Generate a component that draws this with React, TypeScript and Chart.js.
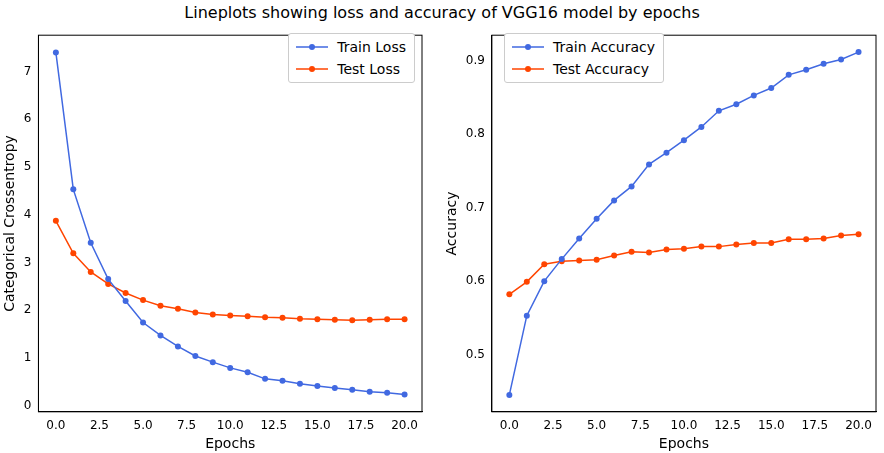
import { useRef, useEffect } from "react";
import { Chart, registerables } from "chart.js";

Chart.register(...registerables);

const epochs = Array.from({ length: 21 }, (_, i) => i);
const trainLoss = [7.4, 4.53, 3.41, 2.65, 2.19, 1.74, 1.47, 1.24, 1.04, 0.91, 0.79, 0.7, 0.56, 0.52, 0.46, 0.41, 0.37, 0.33, 0.29, 0.27, 0.23];
const testLoss = [3.87, 3.19, 2.8, 2.55, 2.36, 2.21, 2.09, 2.03, 1.95, 1.91, 1.89, 1.87, 1.85, 1.84, 1.82, 1.81, 1.8, 1.79, 1.8, 1.81, 1.81];
const trainAcc = [0.445, 0.553, 0.6, 0.63, 0.658, 0.685, 0.71, 0.729, 0.759, 0.775, 0.792, 0.81, 0.832, 0.841, 0.853, 0.863, 0.881, 0.888, 0.896, 0.902, 0.912];
const testAcc = [0.582, 0.599, 0.623, 0.627, 0.628, 0.629, 0.635, 0.64, 0.639, 0.643, 0.644, 0.647, 0.647, 0.65, 0.652, 0.652, 0.657, 0.657, 0.658, 0.662, 0.664];
const xTicks = [0, 2.5, 5, 7.5, 10, 12.5, 15, 17.5, 20];

const BLUE = "#4169e1";
const RED = "#ff4500";
const FONT = "DejaVu Sans";

interface PanelProps {
  a: number[];
  b: number[];
  la: string;
  lb: string;
  ylabel: string;
  ymin: number;
  ymax: number;
  yticks: number[];
  ydec: number;
  legendLeft: boolean;
  padRight: number;
}

const Panel = ({ a, b, la, lb, ylabel, ymin, ymax, yticks, ydec, legendLeft, padRight }: PanelProps) => {
  const ref = useRef<HTMLCanvasElement | null>(null);
  useEffect(() => {
    const ctx = ref.current?.getContext("2d");
    if (!ctx) return;
    const ds = (label: string, data: number[], c: string) => ({
      label,
      data: data.map((y, i) => ({ x: epochs[i], y })),
      borderColor: c,
      backgroundColor: c,
      borderWidth: 1.5,
      pointRadius: 3,
      pointBorderWidth: 0,
    });
    const chart = new Chart(ctx, {
      type: "line",
      data: { datasets: [ds(la, a, BLUE), ds(lb, b, RED)] },
      options: {
        animation: false,
        responsive: false,
        layout: { padding: { top: 0, right: padRight } },
        plugins: {
          legend: { display: false },
          tooltip: { enabled: false },
        },
        scales: {
          x: {
            type: "linear",
            min: -1,
            max: 21,
            afterBuildTicks: (ax: any) => {
              ax.ticks = xTicks.map((v) => ({ value: v }));
            },
            grid: { display: false, drawTicks: true, tickLength: 4, tickColor: "#000" },
            border: { color: "#000" },
            ticks: { color: "#000", font: { family: FONT, size: 12 }, callback: (v: any) => Number(v).toFixed(1) },
            title: { display: true, text: "Epochs", color: "#000", font: { family: FONT, size: 14 }, padding: 0 },
          },
          y: {
            min: ymin,
            max: ymax,
            afterBuildTicks: (ax: any) => {
              ax.ticks = yticks.map((v) => ({ value: v }));
            },
            grid: { display: false, tickLength: 4, tickColor: "#000" },
            border: { color: "#000" },
            ticks: { color: "#000", font: { family: FONT, size: 12 }, callback: (v: any) => Number(v).toFixed(ydec) },
            title: { display: true, text: ylabel, color: "#000", font: { family: FONT, size: 14 }, padding: 2 },
          },
        },
      },
      plugins: [
        {
          id: "frame",
          afterDraw: (c: any) => {
            const { left, right, top, bottom } = c.chartArea;
            c.ctx.save();
            c.ctx.strokeStyle = "#000";
            c.ctx.lineWidth = 1;
            c.ctx.strokeRect(left, top, right - left, bottom - top);
            c.ctx.restore();
          },
        },
      ],
    } as any);
    return () => chart.destroy();
  }, []);

  const item = (label: string, c: string) => (
    <div style={{ display: "flex", alignItems: "center", height: 22 }}>
      <svg width="34" height="10" style={{ marginRight: 8 }}>
        <line x1="1" y1="5" x2="33" y2="5" stroke={c} strokeWidth="1.5" />
        <circle cx="17" cy="5" r="3" fill={c} />
      </svg>
      {label}
    </div>
  );

  return (
    <div style={{ position: "relative", width: 442, height: 428 }}>
      <canvas ref={ref} width={442} height={428} />
      <div
        style={{
          position: "absolute",
          top: 8,
          [legendLeft ? "left" : "right"]: legendLeft ? 62 : padRight + 7,
          border: "1px solid #ccc",
          borderRadius: 3,
          padding: "2px 8px 2px 6px",
          background: "#fff",
          fontFamily: FONT,
          fontSize: 14,
        }}
      >
        {item(la, BLUE)}
        {item(lb, RED)}
      </div>
    </div>
  );
};

export default function App() {
  useEffect(() => {
    document.body.style.margin = "0";
  }, []);
  return (
    <div style={{ width: 884, height: 453, background: "#fff", position: "relative" }}>
      <div style={{ textAlign: "center", fontFamily: FONT, fontSize: 16, height: 25, lineHeight: "26px" }}>
        Lineplots showing loss and accuracy of VGG16 model by epochs
      </div>
      <div style={{ display: "flex" }}>
        <Panel a={trainLoss} b={testLoss} la="Train Loss" lb="Test Loss" ylabel="Categorical Crossentropy"
          ymin={-0.13} ymax={7.76} yticks={[0, 1, 2, 3, 4, 5, 6, 7]} ydec={0} legendLeft={false} padRight={20} />
        <Panel a={trainAcc} b={testAcc} la="Train Accuracy" lb="Test Accuracy" ylabel="Accuracy"
          ymin={0.422} ymax={0.935} yticks={[0.5, 0.6, 0.7, 0.8, 0.9]} ydec={1} legendLeft={true} padRight={8} />
      </div>
    </div>
  );
}
